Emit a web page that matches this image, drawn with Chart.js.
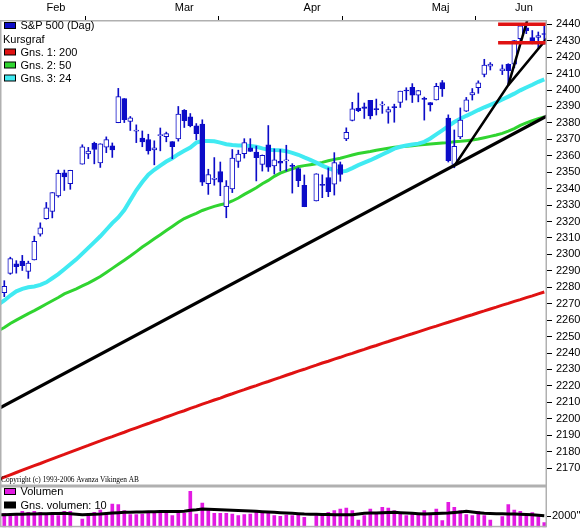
<!DOCTYPE html>
<html><head><meta charset="utf-8">
<script src="https://cdn.jsdelivr.net/npm/chart.js@4.4.1/dist/chart.umd.min.js"></script>
<style>
html,body{margin:0;padding:0;background:#fff;}
#wrap{position:relative;width:583px;height:530px;overflow:hidden;background:#fff;}
#price{position:absolute;left:0;top:0;}
#vol{position:absolute;left:0;top:486px;}
</style></head><body>
<div id="wrap">
<canvas id="price" width="583" height="486"></canvas>
<canvas id="vol" width="583" height="44"></canvas>
</div>
<script>
// ---- DATA (index 0 = Feb 2; weekdays; null = market holiday) ----
const opens  = [2276.7,2288.5,2294.3,2295.9,2289.6,2296.7,2312.3,2321.7,2326.1,2335.6,2349.6,2343.0,null,2354.9,2361.1,2367.5,2355.7,2365.2,2366.1,2380.1,2394.8,2380.9,2375.2,2370.7,2369.8,2363.5,2372.5,2371.6,2368.6,2370.3,2387.7,2383.7,2378.2,2379.3,2343.0,2346.0,2350.4,2329.1,2339.8,2356.5,2361.3,2364.8,2362.3,2354.8,2366.6,2353.8,2356.6,2357.2,2353.9,2352.2,2342.0,null,2332.6,2342.5,2346.8,2342.7,2354.7,2370.3,2381.5,2389.0,2389.7,2393.7,2388.5,2391.1,2386.5,2389.8,2392.4,2399.9,2401.6,2396.8,2394.8,2392.4,2394.0,2404.6,2383.0,2354.7,2371.4,2387.2,2397.0,2401.4,2409.5,2414.5,null,2411.7,2415.6,2415.7,2431.3,2437.8,2431.9,2432.0,2434.3];
const highs  = [2284.0,2298.3,2296.2,2299.4,2295.9,2311.1,2319.2,2331.6,2337.6,2351.3,2351.3,2351.2,null,2366.7,2365.1,2368.3,2367.3,2371.5,2367.8,2401.0,2394.8,2383.9,2378.8,2375.1,2373.1,2369.1,2376.9,2374.4,2368.6,2390.0,2388.1,2385.7,2379.6,2381.9,2351.8,2358.9,2356.2,2344.9,2363.8,2363.4,2370.4,2370.4,2365.9,2360.5,2378.4,2364.2,2363.8,2366.4,2355.2,2352.7,2348.3,null,2349.1,2348.4,2352.6,2361.9,2356.2,2377.0,2392.5,2398.2,2392.1,2393.7,2394.5,2392.9,2389.8,2391.4,2399.3,2401.4,2403.9,2399.7,2395.7,2392.4,2404.1,2405.8,2384.9,2375.7,2389.1,2395.5,2400.9,2405.6,2418.7,2416.7,null,2415.3,2416.0,2430.1,2440.2,2439.6,2436.2,2435.3,2439.3];
const lows   = [2274.3,2287.9,2288.6,2290.2,2285.4,2296.6,2311.1,2321.4,2322.2,2334.8,2338.9,2339.6,null,2354.9,2358.3,2355.1,2352.9,2361.9,2359.0,2380.1,2380.2,2375.4,2368.0,2365.5,2361.0,2354.5,2363.0,2368.5,2358.2,2368.9,2377.2,2377.6,2369.7,2341.9,2336.5,2342.1,2335.7,2322.3,2337.6,2352.9,2358.6,2362.6,2344.7,2350.7,2350.5,2348.9,2350.7,2350.7,2337.3,2341.2,2329.0,null,2332.5,2334.5,2335.1,2336.1,2344.5,2369.2,2381.2,2386.8,2382.7,2382.4,2384.8,2385.8,2379.8,2380.4,2389.4,2393.9,2392.4,2392.8,2381.7,2387.2,2393.9,2396.1,2356.2,2352.7,2370.4,2386.9,2393.9,2398.0,2408.0,2412.2,null,2409.4,2403.6,2413.5,2427.7,2434.3,2428.1,2424.8,2427.9];
const closes = [2280.6,2297.4,2292.6,2293.1,2294.7,2307.9,2316.1,2328.3,2337.6,2349.3,2347.2,2351.2,null,2365.4,2362.8,2363.8,2367.3,2369.8,2363.6,2396.0,2381.9,2383.1,2375.3,2368.4,2363.0,2364.9,2372.6,2373.5,2365.5,2385.3,2381.4,2378.3,2373.5,2344.0,2348.5,2346.0,2344.0,2341.6,2358.6,2361.1,2368.1,2362.7,2358.8,2360.2,2353.0,2357.5,2355.5,2357.2,2353.8,2344.9,2329.0,null,2349.0,2342.2,2338.2,2355.8,2348.7,2374.2,2388.6,2387.5,2388.8,2384.2,2388.3,2391.2,2388.1,2389.5,2399.3,2399.4,2396.9,2399.6,2394.4,2390.9,2402.3,2400.7,2357.0,2365.7,2381.7,2394.0,2398.4,2404.4,2415.1,2415.8,null,2412.9,2411.8,2430.1,2439.1,2436.1,2429.3,2433.1,2433.8];
const volumes = [2540,1994,2115,2903,2721,2903,2721,2540,2297,2115,2903,2903,null,1509,2418,2721,3145,2418,4236,4115,3024,2297,2297,2418,2903,2721,2721,2540,2115,2721,2540,6539,2418,4418,3327,2540,2540,2540,2418,2115,2297,2418,3024,2721,2540,2115,1994,2236,2115,2418,1812,null,2115,2418,2721,3024,3327,3509,3024,1327,2115,3327,2418,3630,3509,3024,2418,2115,2418,2297,3024,2540,3327,1206,4539,3630,3024,2297,2115,2903,2115,1327,null,1933,4115,3145,2903,1994,2660,1933,842];
// moving averages: index 0 = Feb 1 (one day before first candle)
const ma200 = [2163.1,2164.5,2165.9,2167.3,2168.7,2170.1,2171.5,2172.8,2174.2,2175.6,2177.0,2178.3,2179.7,2181.1,2182.5,2183.8,2185.2,2186.5,2187.9,2189.1,2190.5,2191.8,2193.2,2194.5,2195.8,2197.1,2198.5,2199.7,2201.1,2202.4,2203.7,2204.9,2206.3,2207.5,2208.9,2210.1,2211.4,2212.6,2214.0,2215.2,2216.5,2217.7,2219.0,2220.2,2221.5,2222.7,2224.0,2225.2,2226.5,2227.7,2229.0,2230.1,2231.4,2232.6,2233.9,2235.0,2236.3,2237.4,2238.7,2239.8,2241.1,2242.2,2243.5,2244.6,2245.9,2247.0,2248.2,2249.4,2250.6,2251.7,2252.9,2254.1,2255.3,2256.4,2257.6,2258.7,2259.9,2261.0,2262.2,2263.3,2264.5,2265.6,2266.8,2267.9,2269.1,2270.2,2271.4,2272.5,2273.7,2274.8,2276.0,2277.1];
const ma50 = [2253.5,2255.5,2258,2260,2262,2264,2265.8,2267.8,2269.8,2271.8,2273.8,2276,2277.5,2279,2280.8,2282.5,2284.5,2286.5,2289,2291.5,2294,2296.5,2299,2301.7,2304.5,2307,2309.5,2312,2314.5,2317,2319.5,2321.8,2323.5,2325,2326.7,2328,2329.2,2330.2,2331,2332.5,2334.3,2336.5,2338.5,2340.5,2343,2345,2347.5,2349.4,2350.8,2352,2353.3,2354,2354.6,2355.2,2356,2357,2357.8,2358.5,2359.5,2360.5,2361.4,2362,2362.6,2363.4,2364,2364.6,2365.2,2365.5,2365.8,2366.1,2366.5,2366.8,2367.1,2367.4,2367.7,2368,2368.5,2368.8,2369.2,2369.6,2370.2,2371,2371.8,2372.6,2373.6,2375,2376.5,2378.5,2380,2381.3,2382.5,2383.7];
const ma24 = [2269.5,2272,2275,2277.5,2279,2280,2280.5,2281.5,2283,2285.5,2288,2291,2294,2297,2300.5,2304,2307.5,2311,2315,2319,2322.5,2327,2333,2339,2344,2348.5,2351.5,2354,2356.5,2358.5,2361,2363,2365,2368,2369,2369,2368.8,2368,2367,2366.5,2366.3,2366.2,2366,2365.5,2364.5,2363.7,2363.5,2363.4,2362.8,2361.8,2360.6,2359,2357.5,2355.8,2354,2352.5,2351.2,2350.3,2350.8,2352.5,2354.3,2355.8,2357.3,2359,2360.8,2362.5,2364.3,2365.5,2366.2,2366.8,2367.4,2368.5,2370.5,2373,2375.5,2378,2380.5,2382.5,2384.3,2386,2387.8,2389.5,2391,2392.5,2394.2,2396,2397.8,2399.8,2401.5,2403.2,2405,2406.5];
const volMa10 = [2290,2300,2320,2350,2370,2400,2420,2450,2480,2510,2530,2540,2450,2370,2300,2340,2380,2420,2500,2580,2650,2720,2740,2770,2800,2820,2840,2850,2860,2870,2890,2900,3100,3200,3330,3280,3240,3210,3160,3120,3070,3020,2960,2900,2840,2780,2720,2660,2600,2540,2480,2420,2390,2360,2330,2310,2300,2300,2300,2300,2420,2540,2580,2620,2660,2690,2720,2660,2600,2540,2480,2420,2460,2510,2550,2600,2700,2800,2900,2780,2660,2540,2510,2480,2460,2440,2420,2380,2340,2300,2200,2120];
// trend lines [dayIndex, price]
const trendA = [[-0.717,2206.6],[90.45,2384.2]];
const trendB = [[75.1,2354.4],[84.0,2403.0],[90.45,2431.5]];
const trendC = [[84.0,2403.0],[87.2,2443.0]];
const resLevels = [2440.0, 2428.8];
const resFrom = 82.3, resTo = 90.45;
// axis ticks
const yTicks = [2170,2180,2190,2200,2210,2220,2230,2240,2250,2260,2270,2280,2290,2300,2310,2320,2330,2340,2350,2360,2370,2380,2390,2400,2410,2420,2430,2440];
const monthTickPos = [8.6,18.5,30,41.5,51.3,61.5,72.7,84.5,86.6];
const monthTickLabels = ['Feb','','Mar','','Apr','','Maj','','Jun'];
const legendLabels = ['S&P 500 (Dag)','Kursgraf','Gns. 1: 200','Gns. 2: 50','Gns. 3: 24'];
const volLegendLabels = ['Volumen','Gns. volumen: 10'];
const volTicks = [2000];

// ---- styling ----
const BLUE='#0c0cc8', RED='rgb(224,18,18)', GREEN='rgb(48,212,48)', CYAN='rgb(64,234,242)', MAG='rgb(226,26,226)';
const X_MIN=-0.717, X_MAX=90.45;
Chart.defaults.font.family='"Liberation Sans", Arial, sans-serif';
Chart.defaults.font.size=11;
Chart.defaults.color='#000';

const idx = opens.map((_,i)=>i).filter(i=>opens[i]!==null);
const wickData = idx.map(i=>({x:i,y:[lows[i],highs[i]]}));
const bodyData = idx.map(i=>{let a=opens[i],b=closes[i];if(Math.abs(a-b)<0.5){const m=(a+b)/2;a=m-0.35;b=m+0.35;}return {x:i,y:[a,b],up:closes[i]>=opens[i]};});
const maPts = arr=>arr.map((v,k)=>({x:k-1,y:v}));
const pts = arr=>arr.map(p=>({x:p[0],y:p[1]}));

const framePlugin={id:'frame',afterDraw(c){const {ctx,chartArea:a}=c;ctx.save();ctx.strokeStyle='#b0b0b0';ctx.lineWidth=1.5;ctx.strokeRect(a.left+0.75,a.top+0.75,a.right-a.left-1.5,a.bottom-a.top-1.5);ctx.restore();}};

const legendPlugin={id:'lgd',afterDraw(c){const ctx=c.ctx;ctx.save();
 const cols=[BLUE,null,RED,GREEN,CYAN];const ys=[25.5,39,52,65,78];
 ctx.font='11px "Liberation Sans", Arial, sans-serif';ctx.textBaseline='middle';ctx.fillStyle='#000';
 legendLabels.forEach((t,k)=>{const y=ys[k];let tx=3;if(cols[k]){ctx.fillStyle=cols[k];ctx.fillRect(4.5,y-3,11,6);ctx.strokeStyle='#000';ctx.lineWidth=1;ctx.strokeRect(4.5,y-3,11,6);tx=20.5;}ctx.fillStyle='#000';ctx.fillText(t,tx,y+0.5);});
 ctx.font='8px "Liberation Serif", "Times New Roman", serif';ctx.textBaseline='alphabetic';
 ctx.fillText('Copyright (c) 1993-2006 Avanza Vikingen AB',1,482,138);
 ctx.restore();}};

const volLegendPlugin={id:'vlgd',afterDraw(c){const ctx=c.ctx;ctx.save();
 const cols=[MAG,'#000'];const ys=[5.5,19];
 ctx.font='11px "Liberation Sans", Arial, sans-serif';ctx.textBaseline='middle';
 volLegendLabels.forEach((t,k)=>{const y=ys[k];ctx.fillStyle=cols[k];ctx.fillRect(4.5,y-3,11,6);ctx.strokeStyle='#000';ctx.lineWidth=1;ctx.strokeRect(4.5,y-3,11,6);ctx.fillStyle='#000';ctx.fillText(t,20.5,y+0.5);});
 ctx.restore();}};

const lineDs=(data,color,w,order)=>({type:'line',data,borderColor:color,borderWidth:w,pointRadius:0,fill:false,tension:0,order,spanGaps:true});

new Chart(document.getElementById('price'),{
 type:'bar',
 data:{datasets:[
  lineDs(maPts(ma200),RED,3,20),
  lineDs(maPts(ma50),GREEN,3,19),
  lineDs(maPts(ma24),CYAN,4,18),
  {type:'bar',data:wickData,backgroundColor:BLUE,barThickness:1,grouped:false,order:6},
  {type:'bar',data:bodyData,barThickness:5,grouped:false,order:5,borderWidth:1,borderColor:BLUE,borderSkipped:false,
   backgroundColor:ctx=>(ctx.raw&&ctx.raw.up)?'#ffffff':BLUE},
  lineDs(pts(trendA),'#000',3.2,2),
  lineDs(pts(trendB),'#000',2.5,2),
  lineDs(pts(trendC),'#000',2.5,2),
  lineDs([{x:resFrom,y:resLevels[0]},{x:resTo,y:resLevels[0]}],RED,3.5,1),
  lineDs([{x:resFrom,y:resLevels[1]},{x:resTo,y:resLevels[1]}],RED,3.5,1)
 ]},
 options:{responsive:false,animation:false,layout:{padding:0},
  plugins:{legend:{display:false},tooltip:{enabled:false}},
  scales:{
   x:{type:'linear',position:'top',min:X_MIN,max:X_MAX,offset:false,
    afterBuildTicks:s=>{s.ticks=monthTickPos.map(v=>({value:v}));},
    afterFit:s=>{s.height=20;s.paddingLeft=0;s.paddingRight=0;},
    ticks:{autoSkip:false,maxRotation:0,minRotation:0,padding:1,callback:(v,i)=>monthTickLabels[i]},
    grid:{drawOnChartArea:false,drawTicks:true,tickLength:4,tickWidth:1,tickColor:ctx=>monthTickLabels[ctx.index]===''?'#000':'rgba(0,0,0,0)'},
    border:{display:false}},
   y:{position:'right',min:2159.1,max:2442.6,
    afterBuildTicks:s=>{s.ticks=yTicks.map(v=>({value:v}));},
    afterFit:s=>{s.width=36;s.paddingTop=0;s.paddingBottom=0;},
    ticks:{padding:4,autoSkip:false,callback:v=>String(v)},
    grid:{drawOnChartArea:false,drawTicks:true,tickLength:5,tickColor:'#000'},
    border:{display:false}}
  }},
 plugins:[framePlugin,legendPlugin]
});

const vIdx = volumes.map((_,i)=>i).filter(i=>volumes[i]!==null);
new Chart(document.getElementById('vol'),{
 type:'bar',
 data:{datasets:[
  lineDs(maPts(volMa10),'#000',3,1),
  {type:'bar',data:vIdx.map(i=>({x:i,y:volumes[i]})),backgroundColor:MAG,barThickness:3,grouped:false,order:5}
 ]},
 options:{responsive:false,animation:false,layout:{padding:{top:0,bottom:2.7,left:0,right:0}},
  plugins:{legend:{display:false},tooltip:{enabled:false}},
  scales:{
   x:{type:'linear',display:false,min:X_MIN,max:X_MAX,offset:false},
   y:{position:'right',min:0,max:7508,
    afterBuildTicks:s=>{s.ticks=volTicks.map(v=>({value:v}));},
    afterFit:s=>{s.width=36;s.paddingTop=0;s.paddingBottom=0;},
    ticks:{padding:1,autoSkip:false,callback:v=>String(v)+'"'},
    grid:{drawOnChartArea:false,drawTicks:true,tickLength:4,tickColor:'#000'},
    border:{display:false}}
  }},
 plugins:[framePlugin,volLegendPlugin]
});
</script>
</body></html>
